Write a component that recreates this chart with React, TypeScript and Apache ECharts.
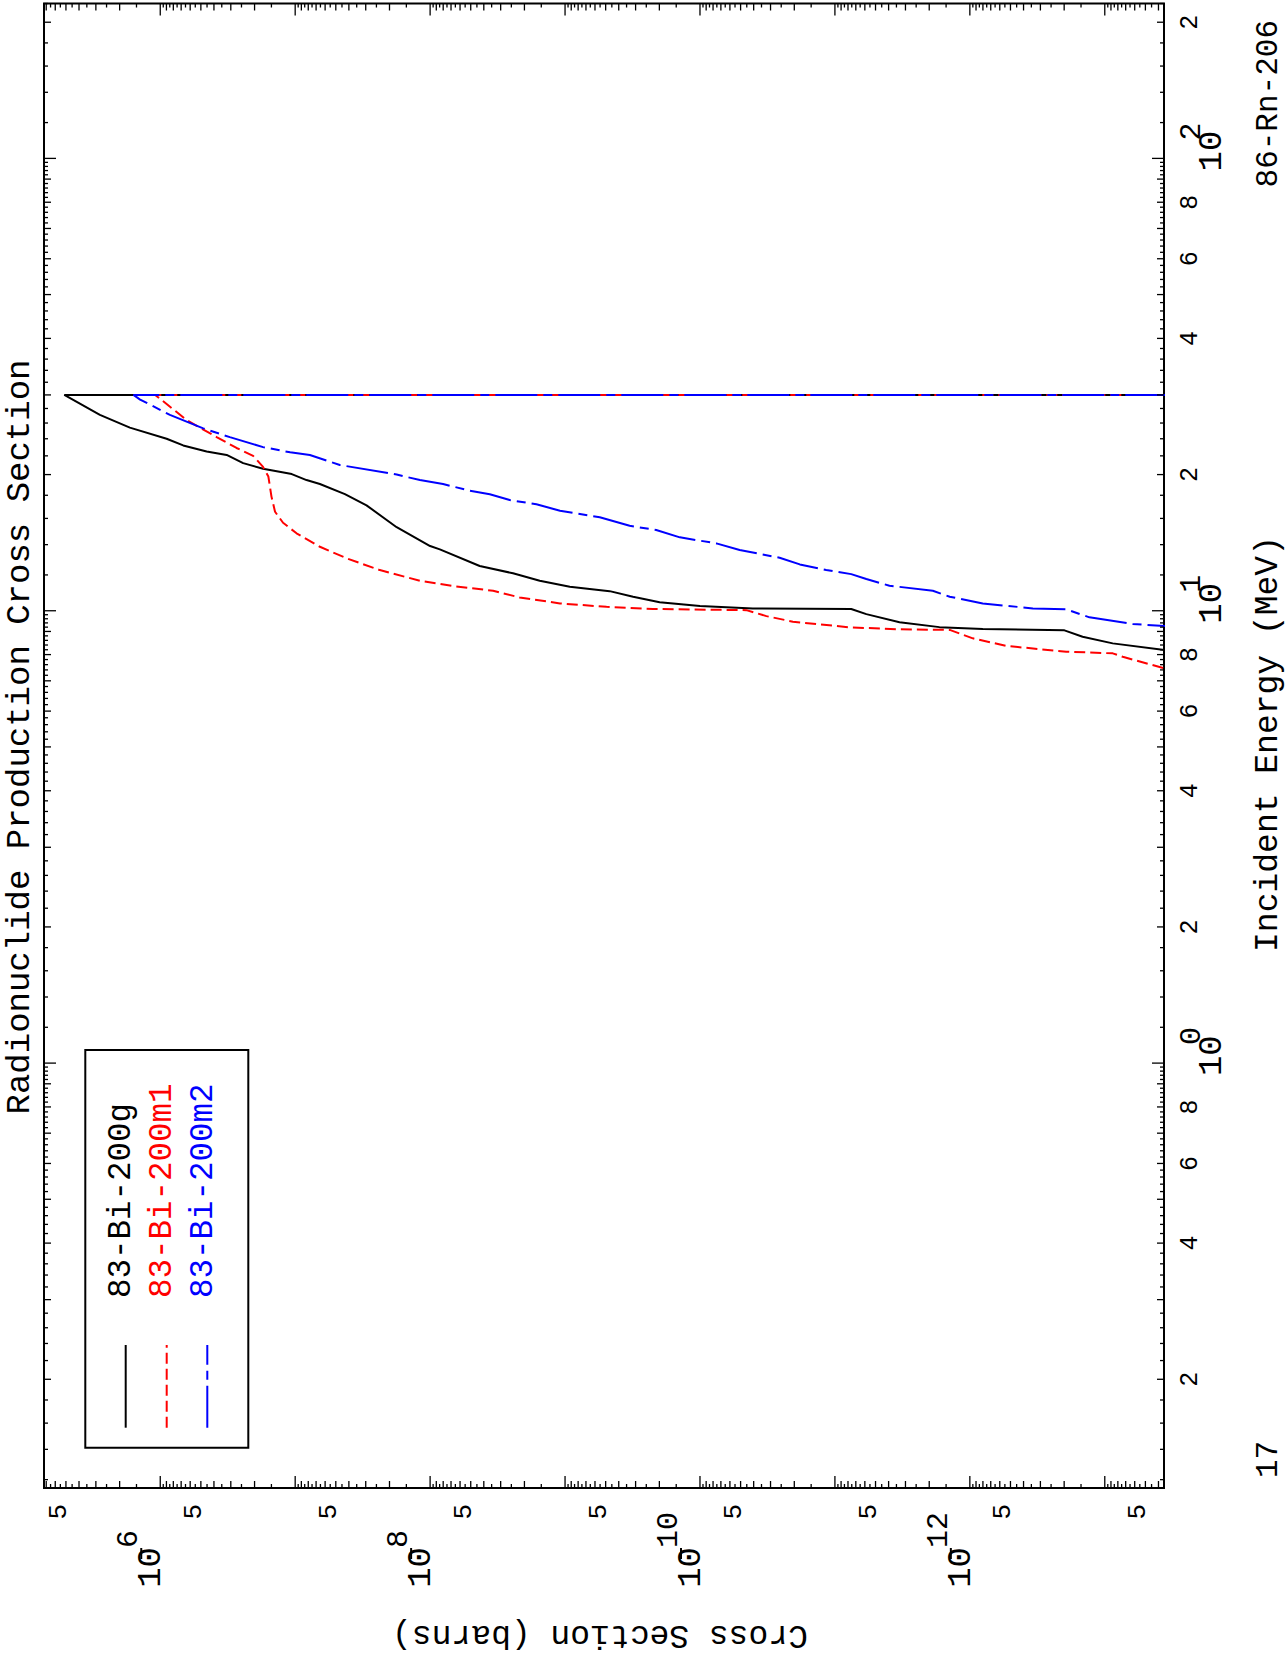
import React, { useEffect, useRef } from 'react';
import * as echarts from 'echarts';

// ---------- texts ----------
const CHART_TITLE = 'Radionuclide Production Cross Section';
const X_AXIS_NAME = 'Incident Energy (MeV)';
const Y_AXIS_NAME = 'Cross Section (barns)';
const TARGET_LABEL = '86-Rn-206';
const Z_LABEL = '17';
const SERIES_NAMES = ['83-Bi-200g', '83-Bi-200m1', '83-Bi-200m2'];
const SERIES_COLORS = ['#000000', '#ff0000', '#0000ff'];

// ---------- axis ranges ----------
const E_MIN = 0.115;
const E_MAX = 220;
const XS_MIN = 3.64e-14;
const XS_MAX = 7.27e-6;

// ---------- tick definitions ----------
const ENERGY_DECADES = [0.1, 1, 10, 100];
const ENERGY_LABEL_MULTIPLES = [2, 4, 6, 8];
const ENERGY_DECADE_VALUES = [1, 10, 100];
const ENERGY_DECADE_EXPONENTS = [0, 1, 2];
const XS_DECADE_EXPONENTS = [-14, -13, -12, -11, -10, -9, -8, -7, -6];
const XS_FIVE_VALUES = [5e-6, 5e-7, 5e-8, 5e-9, 5e-10, 5e-11, 5e-12, 5e-13, 5e-14];
const XS_LABELED_DECADES = [1e-6, 1e-8, 1e-10, 1e-12];
const XS_LABELED_EXPONENTS = [6, 8, 10, 12]; // drawn with a minus bar

// ---------- data ----------
const CUTOFF_ENERGY = 30; // all curves fall to zero above 30 MeV
const ZERO_XS = 1e-20; // stands for "zero" on the log axis (off-scale)

const bi200gEnergy = [30, 27.1, 25.4, 24.0, 23.2, 22.5, 22.1, 21.2, 20.6, 20.05, 19.45, 19.06, 18.1, 17.1, 15.3, 13.9, 13.67, 12.56, 12.1, 11.65, 11.3, 11.05, 10.74, 10.44, 10.24, 10.12, 10.09, 9.83, 9.43, 9.2, 9.11, 9.05, 8.76, 8.47, 8.19, 7.95];
const bi200gXs = [5.14e-6, 2.8e-6, 1.68e-6, 8.97e-7, 6.76e-7, 4.53e-7, 3.22e-7, 2.43e-7, 1.73e-7, 1.06e-7, 8.24e-8, 6.56e-8, 4.28e-8, 2.96e-8, 1.77e-8, 1.0e-8, 8.47e-9, 4.29e-9, 2.43e-9, 1.54e-9, 9.22e-10, 4.67e-10, 3.13e-10, 1.99e-10, 1.0e-10, 4.05e-11, 7.57e-12, 5.85e-12, 3.32e-12, 1.68e-12, 8.02e-13, 1.99e-13, 1.46e-13, 8.73e-14, 3.61e-14, 2.0e-14];

const bi200m1Energy = [30, 26.4, 24.2, 22.9, 22.0, 20.8, 19.8, 17.9, 16.55, 15.65, 14.83, 13.85, 13.06, 12.3, 11.65, 11.34, 11.07, 10.7, 10.38, 10.2, 10.09, 10.03, 9.73, 9.46, 9.33, 9.19, 9.1, 9.07, 8.69, 8.36, 8.12, 8.05, 7.91, 7.46, 7.1];
const bi200m1Xs = [1.09e-6, 6.37e-7, 3.82e-7, 2.72e-7, 2.05e-7, 1.73e-7, 1.58e-7, 1.5e-7, 1.41e-7, 1.23e-7, 9.77e-8, 6.56e-8, 4.16e-8, 2.36e-8, 1.19e-8, 6.76e-9, 3.41e-9, 2.17e-9, 1.09e-9, 4.93e-10, 2.23e-10, 4.53e-11, 3.22e-11, 2.05e-11, 1.3e-11, 7.78e-12, 3.32e-12, 1.41e-12, 9.5e-13, 5.37e-13, 1.93e-13, 8.73e-14, 7.36e-14, 3.61e-14, 2.0e-14];

const bi200m2Energy = [30, 29.3, 27.1, 25.3, 24.2, 23.0, 22.4, 22.1, 21.0, 20.0, 19.45, 19.06, 18.42, 18.1, 17.57, 17.19, 16.64, 16.09, 15.41, 15.08, 14.53, 14.09, 13.62, 13.1, 12.66, 12.3, 12.05, 11.75, 11.36, 11.07, 10.74, 10.38, 10.12, 10.07, 9.67, 9.35, 9.25, 9.16];
const bi200m2Xs = [1.58e-6, 1.41e-6, 8.48e-7, 4.8e-7, 3.05e-7, 1.73e-7, 1.09e-7, 7.78e-8, 4.67e-8, 1.77e-8, 1.19e-8, 8.02e-9, 5.08e-9, 3.61e-9, 2.57e-9, 1.63e-9, 1.09e-9, 5.53e-10, 3.32e-10, 2.11e-10, 1.41e-10, 7.56e-11, 5.08e-11, 2.57e-11, 1.82e-11, 1.16e-11, 7.57e-12, 5.85e-12, 3.94e-12, 1.88e-12, 1.41e-12, 8.02e-13, 3.41e-13, 1.93e-13, 1.3e-13, 6.21e-14, 3.61e-14, 2.0e-14];

const SERIES_ENERGY = [bi200gEnergy, bi200m1Energy, bi200m2Energy];
const SERIES_XS = [bi200gXs, bi200m1Xs, bi200m2Xs];

// ---------- layout (landscape frame, rotated -90deg on the page) ----------
const W = 1656;
const H = 1287;
const FONT = 'Liberation Mono';
const DASHES: any[] = ['solid', [11, 5], [42, 6, 9, 6]];
const TICK_LEN = [12, 7, 4];
const MID_E = 1;
const MID_XS = 1e-9;

function buildEnergyTicks() {
  const out: number[][] = [];
  for (const d of ENERGY_DECADES) {
    for (let k = 10; k < 100; k += 2) {
      const v = (d * k) / 10;
      if (v < E_MIN || v > E_MAX) continue;
      out.push([v, MID_XS, k === 10 ? 0 : k % 10 === 0 ? 1 : 2]);
    }
  }
  return out;
}

function buildXsTicks() {
  const out: number[][] = [];
  for (const e of XS_DECADE_EXPONENTS) {
    const d = Math.pow(10, e);
    for (let k = 10; k < 100; k += 5) {
      const v = (d * k) / 10;
      if (v < XS_MIN || v > XS_MAX) continue;
      out.push([MID_E, v, k === 10 ? 0 : k % 10 === 0 ? 1 : 2]);
    }
  }
  return out;
}

function txt(text: string, x: number, y: number, size: number, align: string, valign: string, fill = '#000', rotation = 0): any {
  return {
    type: 'text',
    x,
    y,
    rotation,
    silent: true,
    style: {
      text,
      fill,
      fontSize: size,
      fontFamily: FONT,
      align,
      verticalAlign: valign,
      textAlign: align,
      textVerticalAlign: valign,
    },
  };
}

function buildOption(): any {
  const lineSeries = SERIES_NAMES.map((name, i) => ({
    type: 'line',
    name,
    silent: true,
    symbol: 'none',
    showSymbol: false,
    clip: true,
    z: 3,
    lineStyle: { color: SERIES_COLORS[i], width: 2, type: DASHES[i] },
    data: [[CUTOFF_ENERGY, ZERO_XS]].concat(SERIES_ENERGY[i].map((e, j) => [e, SERIES_XS[i][j]])),
  }));

  const energyMinorLabels: number[][] = [];
  for (const d of ENERGY_DECADES) {
    for (const m of ENERGY_LABEL_MULTIPLES) {
      const v = d * m;
      if (v >= E_MIN && v <= E_MAX) energyMinorLabels.push([v, MID_XS, m]);
    }
  }
  const energyDecadeLabels = ENERGY_DECADE_VALUES.map((v, i) => [v, MID_XS, ENERGY_DECADE_EXPONENTS[i]]);
  const xsFiveLabels = XS_FIVE_VALUES.map((v) => [MID_E, v, 5]);
  const xsDecadeLabels = XS_LABELED_DECADES.map((v, i) => [MID_E, v, XS_LABELED_EXPONENTS[i]]);

  const tickStyle = { stroke: '#000', lineWidth: 1.3 };

  const customSeries: any[] = [
    {
      type: 'custom',
      coordinateSystem: 'cartesian2d',
      silent: true,
      clip: false,
      z: 5,
      data: buildEnergyTicks(),
      renderItem: (params: any, api: any) => {
        const px = api.coord([api.value(0), MID_XS])[0];
        const cs = params.coordSys;
        const len = TICK_LEN[api.value(2)];
        const bottom = cs.y + cs.height;
        return {
          type: 'group',
          children: [
            { type: 'line', shape: { x1: px, y1: bottom, x2: px, y2: bottom - len }, style: tickStyle },
            { type: 'line', shape: { x1: px, y1: cs.y, x2: px, y2: cs.y + len }, style: tickStyle },
          ],
        };
      },
    },
    {
      type: 'custom',
      coordinateSystem: 'cartesian2d',
      silent: true,
      clip: false,
      z: 5,
      data: buildXsTicks(),
      renderItem: (params: any, api: any) => {
        const py = api.coord([MID_E, api.value(1)])[1];
        const cs = params.coordSys;
        const len = TICK_LEN[api.value(2)];
        const right = cs.x + cs.width;
        return {
          type: 'group',
          children: [
            { type: 'line', shape: { x1: cs.x, y1: py, x2: cs.x + len, y2: py }, style: tickStyle },
            { type: 'line', shape: { x1: right, y1: py, x2: right - len, y2: py }, style: tickStyle },
          ],
        };
      },
    },
    {
      type: 'custom',
      coordinateSystem: 'cartesian2d',
      silent: true,
      clip: false,
      z: 5,
      data: energyMinorLabels,
      renderItem: (params: any, api: any) => {
        const px = api.coord([api.value(0), MID_XS])[0];
        const cs = params.coordSys;
        return txt(String(api.value(2)), px, cs.y + cs.height + 26, 25, 'center', 'middle');
      },
    },
    {
      type: 'custom',
      coordinateSystem: 'cartesian2d',
      silent: true,
      clip: false,
      z: 5,
      data: energyDecadeLabels,
      renderItem: (params: any, api: any) => {
        const px = api.coord([api.value(0), MID_XS])[0];
        const cs = params.coordSys;
        const b = cs.y + cs.height;
        return {
          type: 'group',
          children: [
            txt('10', px - 13, b + 47.5, 34, 'left', 'middle'),
            txt(String(api.value(2)), px + 18, b + 28, 30, 'left', 'middle'),
          ],
        };
      },
    },
    {
      type: 'custom',
      coordinateSystem: 'cartesian2d',
      silent: true,
      clip: false,
      z: 5,
      data: xsFiveLabels,
      renderItem: (params: any, api: any) => {
        const py = api.coord([MID_E, api.value(1)])[1];
        const cs = params.coordSys;
        return txt(String(api.value(2)), cs.x - 16, py - 7, 26, 'right', 'middle');
      },
    },
    {
      type: 'custom',
      coordinateSystem: 'cartesian2d',
      silent: true,
      clip: false,
      z: 5,
      data: xsDecadeLabels,
      renderItem: (params: any, api: any) => {
        const py = api.coord([MID_E, api.value(1)])[1];
        const cs = params.coordSys;
        return {
          type: 'group',
          children: [
            txt('10', cs.x - 59, py - 9, 34, 'right', 'middle'),
            {
              type: 'line',
              shape: { x1: cs.x - 71, y1: py - 19, x2: cs.x - 60, y2: py - 19 },
              style: { stroke: '#000', lineWidth: 2 },
            },
            txt(String(api.value(2)), cs.x - 60, py - 31, 30, 'left', 'middle'),
          ],
        };
      },
    },
  ];

  // legend (drawn inside the frame, top-left of the landscape plot)
  const legendLineY = [125.7, 166.7, 207.3];
  const legendTextY = [121.5, 162, 203];
  const legendElems: any[] = [
    {
      type: 'rect',
      silent: true,
      shape: { x: 208.3, y: 85.3, width: 397.7, height: 163 },
      style: { fill: '#fff', stroke: '#000', lineWidth: 2 },
      z: 10,
    },
  ];
  SERIES_NAMES.forEach((name, i) => {
    legendElems.push({
      type: 'line',
      silent: true,
      z: 11,
      shape: { x1: 228.3, y1: legendLineY[i], x2: 311, y2: legendLineY[i] },
      style: {
        stroke: SERIES_COLORS[i],
        lineWidth: 2,
        lineDash: DASHES[i] === 'solid' ? null : DASHES[i],
      },
    });
    legendElems.push({ ...txt(name, 358, legendTextY[i], 32.5, 'left', 'middle', SERIES_COLORS[i]), z: 11 });
  });

  return {
    animation: false,
    backgroundColor: '#ffffff',
    textStyle: { fontFamily: FONT },
    grid: {
      left: 168,
      right: 3.5,
      top: 44,
      bottom: 123,
      show: true,
      borderColor: '#000',
      borderWidth: 2,
      backgroundColor: 'transparent',
      containLabel: false,
    },
    xAxis: {
      type: 'log',
      logBase: 10,
      min: E_MIN,
      max: E_MAX,
      axisLine: { show: false },
      axisTick: { show: false },
      axisLabel: { show: false },
      splitLine: { show: false },
    },
    yAxis: {
      type: 'log',
      logBase: 10,
      min: XS_MIN,
      max: XS_MAX,
      axisLine: { show: false },
      axisTick: { show: false },
      axisLabel: { show: false },
      splitLine: { show: false },
    },
    series: [...lineSeries, ...customSeries],
    graphic: [
      txt(CHART_TITLE, 919, 20, 34, 'center', 'middle'),
      txt(Y_AXIS_NAME, 22, 600, 33, 'center', 'middle', '#000', Math.PI / 2),
      txt(X_AXIS_NAME, 912, 1268, 33, 'center', 'middle'),
      txt(TARGET_LABEL, 1636, 1268, 31, 'right', 'middle'),
      txt(Z_LABEL, 178, 1268, 31, 'left', 'middle'),
      ...legendElems,
    ],
  };
}

export default function App() {
  const ref = useRef<HTMLDivElement>(null);
  useEffect(() => {
    if (!ref.current) return;
    const chart = echarts.init(ref.current, null, { renderer: 'svg', width: W, height: H });
    chart.setOption(buildOption());
    return () => chart.dispose();
  }, []);
  return (
    <div
      style={{
        position: 'absolute',
        left: 0,
        top: 0,
        width: 1287,
        height: 1656,
        overflow: 'hidden',
        background: '#ffffff',
      }}
    >
      <div
        ref={ref}
        style={{
          position: 'absolute',
          left: 0,
          top: 0,
          width: W,
          height: H,
          transformOrigin: '0 0',
          transform: 'translateY(1656px) rotate(-90deg)',
        }}
      />
    </div>
  );
}
